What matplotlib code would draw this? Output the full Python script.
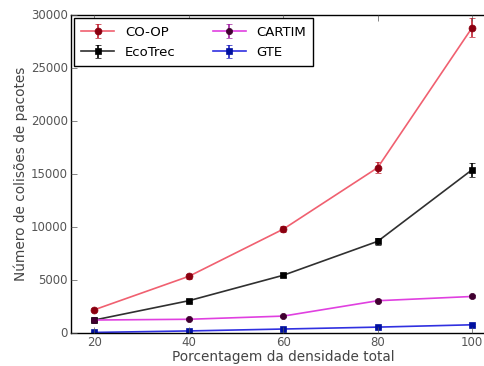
import matplotlib
matplotlib.use("Agg")
import matplotlib.pyplot as plt

densidade = [20, 40, 60, 80, 100]

coop = [2200, 5350, 9800, 15600, 28800]
coop_err = [150, 250, 300, 500, 900]
ecotrec = [1230, 3050, 5450, 8650, 15400]
ecotrec_err = [100, 150, 200, 350, 650]
cartim = [1230, 1300, 1600, 3050, 3450]
cartim_err = [60, 60, 80, 120, 150]
gte = [60, 200, 380, 560, 780]
gte_err = [30, 40, 50, 60, 80]

plt.style.use('classic')
fig = plt.figure(figsize=(4.85, 3.66), dpi=100)
ax = fig.add_axes([0.146, 0.09, 0.876, 0.869])

ax.errorbar(densidade, coop, yerr=coop_err, color='#f06070', marker='o', markersize=5,
            mfc='#8b0010', mec='#8b0010', ecolor='#c02030', capsize=2, lw=1.2, label='CO-OP')
ax.errorbar(densidade, ecotrec, yerr=ecotrec_err, color='#303030', marker='s', markersize=4.5,
            mfc='black', mec='black', ecolor='black', capsize=2, lw=1.2, label='EcoTrec')
ax.errorbar(densidade, cartim, yerr=cartim_err, color='#e040e0', marker='o', markersize=4.5,
            mfc='#400030', mec='#400030', ecolor='#a020a0', capsize=2, lw=1.2, label='CARTIM')
ax.errorbar(densidade, gte, yerr=gte_err, color='#3030e0', marker='s', markersize=5,
            mfc='#0010a0', mec='#0010a0', ecolor='#2020c0', capsize=2, lw=1.2, label='GTE')

ax.set_xlim(15, 105)
ax.set_ylim(0, 30000)
ax.set_xticks([20, 40, 60, 80, 100])
ax.set_yticks([0, 5000, 10000, 15000, 20000, 25000, 30000])
ax.tick_params(labelsize=8.5, colors='#555555', pad=2)
ax.set_xlabel('Porcentagem da densidade total', fontsize=9.8, color='#444444', labelpad=1)
ax.set_ylabel('Número de colisões de pacotes', fontsize=9.8, color='#444444', labelpad=2)
ax.legend(loc='upper left', ncol=2, fontsize=9.5, numpoints=1, handlelength=2.5,
          columnspacing=2.8, borderaxespad=0.25, labelspacing=0.55, borderpad=0.55)

fig.savefig('out.png', dpi=100)
